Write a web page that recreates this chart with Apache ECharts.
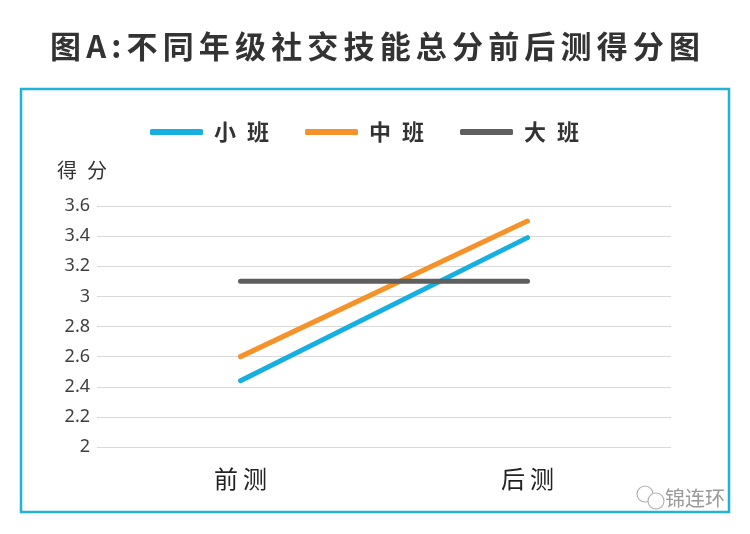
<!DOCTYPE html>
<html>
<head>
<meta charset="utf-8">
<title>图A:不同年级社交技能总分前后测得分图</title>
<script src="https://cdn.jsdelivr.net/npm/echarts@6/dist/echarts.min.js"></script>
<style>
    html, body { margin: 0; padding: 0; background: #ffffff; }
    #chart { width: 750px; height: 534px; }
</style>
</head>
<body>
<div id="chart"></div>
<script>
// Chart data
const categories = ['前测', '后测'];
const seriesNames = ['小班', '中班', '大班'];
const xiaoban = [2.44, 3.39];
const zhongban = [2.60, 3.50];
const daban = [3.10, 3.10];
const colors = ['#16afe0', '#f5922a', '#5f5f5f'];

const cjk = '"Noto Sans CJK SC", "Noto Sans", sans-serif';
// spread characters a little, like the original layout
const spaced = (s, sp) => s.split('').join(sp);

const chart = echarts.init(document.getElementById('chart'));

const makeLine = (name, values, color) => ({
    name: name,
    type: 'line',
    data: values,
    symbol: 'none',
    lineStyle: { color: color, width: 5, cap: 'round' },
    itemStyle: { color: color }
});

const option = {
    backgroundColor: '#ffffff',
    title: {
        text: spaced('图A:不同年级社交技能总分前后测得分图', '\u2006'),
        left: 'center',
        top: 26,
        textStyle: {
            fontFamily: cjk,
            fontSize: 31,
            fontWeight: 'bold',
            color: '#333333'
        }
    },
    legend: {
        data: seriesNames,
        top: 116,
        left: 145,
        icon: 'roundRect',
        itemWidth: 53,
        itemHeight: 6,
        itemGap: 36,
        formatter: name => spaced(name, '\u2002'),
        textStyle: {
            fontFamily: cjk,
            fontSize: 22,
            fontWeight: 'bold',
            color: '#333333',
            padding: [0, 0, 0, 6]
        }
    },
    grid: {
        left: 97,
        right: 79,
        top: 206,
        bottom: 87,
        containLabel: false
    },
    xAxis: {
        type: 'category',
        data: categories,
        boundaryGap: true,
        axisLine: { show: false },
        axisTick: { show: false },
        axisLabel: {
            margin: 20,
            fontFamily: cjk,
            fontSize: 24,
            color: '#222222',
            formatter: v => spaced(v, '\u2009')
        }
    },
    yAxis: {
        type: 'value',
        min: 2,
        max: 3.6,
        interval: 0.2,
        name: '得\u2002分',
        nameLocation: 'end',
        nameGap: 26,
        nameTextStyle: {
            fontFamily: cjk,
            fontSize: 20,
            color: '#333333',
            align: 'left',
            padding: [0, 0, 0, -40]
        },
        axisLine: { show: false },
        axisTick: { show: false },
        axisLabel: {
            margin: 7,
            fontFamily: '"Noto Sans", sans-serif',
            fontSize: 18,
            color: '#404040'
        },
        splitLine: { lineStyle: { color: '#d9d9d9', width: 1 } }
    },
    graphic: [
        {
            type: 'rect',
            shape: { x: 21, y: 89, width: 708, height: 423 },
            style: { fill: 'none', stroke: '#20b3d5', lineWidth: 2.5 },
            silent: true,
            z: -1
        },
        // small chat-bubble mark beside the watermark
        {
            type: 'circle',
            shape: { cx: 645, cy: 494, r: 8 },
            style: { fill: 'none', stroke: '#b0b0b0', lineWidth: 1.2 },
            silent: true
        },
        {
            type: 'circle',
            shape: { cx: 656, cy: 501, r: 8 },
            style: { fill: '#ffffff', stroke: '#b0b0b0', lineWidth: 1.2 },
            silent: true
        },
        {
            type: 'text',
            right: 25,
            top: 488,
            style: {
                text: '锦连环',
                font: '20px "Noto Sans CJK SC"',
                fill: '#9a9a9a'
            },
            silent: true
        }
    ],
    series: [
        makeLine(seriesNames[0], xiaoban, colors[0]),
        makeLine(seriesNames[1], zhongban, colors[1]),
        makeLine(seriesNames[2], daban, colors[2])
    ]
};

chart.setOption(option);
</script>
</body>
</html>
